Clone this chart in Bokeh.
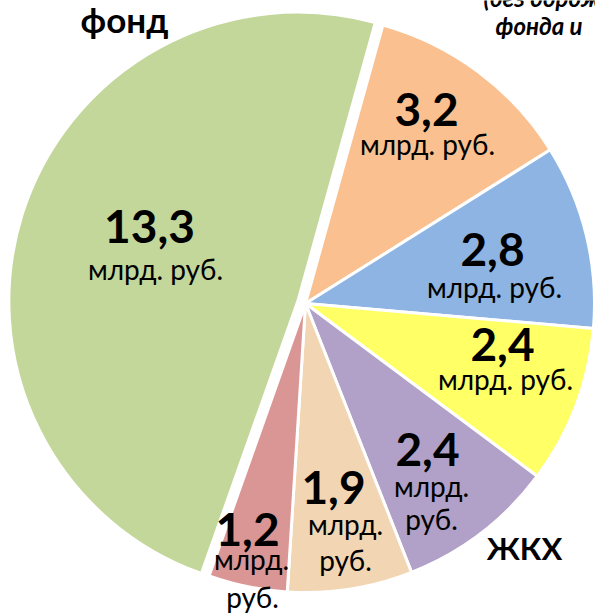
import math
from bokeh.plotting import figure
from bokeh.models import Range1d, ColumnDataSource
from bokeh.core.properties import value
from bokeh.embed import file_html
from bokeh.resources import INLINE

# ---- data ----
categories = ["Дорожный фонд", "Прочее", "Образование", "Соцполитика", "ЖКХ", "Здравоохранение", "Культура"]
values = [13.3, 3.2, 2.8, 2.4, 2.4, 1.9, 1.2]
value_labels = ["13,3", "3,2", "2,8", "2,4", "2,4", "1,9", "1,2"]
unit_lines = [["млрд. руб."], ["млрд. руб."], ["млрд. руб."], ["млрд. руб."],
              ["млрд.", "руб."], ["млрд.", "руб."], ["млрд.", "руб."]]
colors = ["#C4D79B", "#FAC090", "#8DB4E2", "#FFFF66", "#B1A0C7", "#F2D5B3", "#DA9694"]

# ---- layout (pixel coords, y downward) ----
W, H = 595, 615
CX, CY, R = 305, 303, 289
START_DEG = 199.5          # clockwise from 12 o'clock, start of first slice
explode = [8, 0, 0, 0, 0, 0, 0]
NUM_SIZE, UNIT_SIZE = 46, 28
K = 0.34                   # baseline correction (fraction of font size)
num_pos = [(149, 242), (426, 125), (492, 265), (502, 360), (427, 465), (333, 503), (247, 545)]
unit_pos = [[(155, 278)], [(427, 153)], [(494, 296)], [(505, 388)],
            [(431, 495), (431, 528)], [(345, 533), (345, 569)], [(251, 568), (252, 606)]]

def Y(y, size=0):
    return H - (y - K * size)

total = sum(values)
xs, ys, sa, ea = [], [], [], []
cum = 0.0
for v, ex in zip(values, explode):
    a0 = START_DEG + cum / total * 360.0
    a1 = START_DEG + (cum + v) / total * 360.0
    cum += v
    mid = math.radians(90.0 - (a0 + a1) / 2.0)
    xs.append(CX + ex * math.cos(mid))
    ys.append(Y(CY) + ex * math.sin(mid))
    sa.append(math.radians(90.0 - a0))
    ea.append(math.radians(90.0 - a1))

src = ColumnDataSource(dict(x=xs, y=ys, start=sa, end=ea, color=colors, cat=categories, val=values))

p = figure(width=W, height=H, x_range=Range1d(0, W), y_range=Range1d(0, H),
           output_backend="svg", toolbar_location=None, min_border=0)
p.title.visible = False
p.axis.visible = False
p.grid.visible = False
p.outline_line_color = None
p.background_fill_color = "#ffffff"
p.border_fill_color = "#ffffff"

p.wedge(x="x", y="y", radius=R, start_angle="start", end_angle="end", direction="clock",
        fill_color="color", line_color="white", line_width=3, source=src)

FONT = value("Lato")
p.text(x=[q[0] for q in num_pos], y=[Y(q[1], NUM_SIZE) for q in num_pos], text=value_labels,
       text_font=FONT, text_font_style="bold", text_font_size=f"{NUM_SIZE}px",
       text_align="center", text_baseline="alphabetic", text_color="black")

ux, uy, ut = [], [], []
for lines, poss in zip(unit_lines, unit_pos):
    for t, (x, y) in zip(lines, poss):
        ux.append(x); uy.append(Y(y, UNIT_SIZE)); ut.append(t)
p.text(x=ux, y=uy, text=ut, text_font=FONT, text_font_size=f"{UNIT_SIZE}px",
       text_align="center", text_baseline="alphabetic", text_color="black")

# outer captions
p.text(x=[124], y=[Y(30, 35)], text=["фонд"], text_font=FONT, text_font_style="bold",
       text_font_size="35px", text_align="center", text_baseline="alphabetic")
p.text(x=[524], y=[Y(558, 31)], text=["ЖКХ"], text_font=FONT, text_font_style="bold",
       text_font_size="31px", text_align="center", text_baseline="alphabetic")
p.text(x=[483, 495], y=[Y(5, 24), Y(33, 24)], text=["(без дорожного", "фонда и"], text_font=FONT,
       text_font_style="bold italic", text_font_size="24px", text_align="left",
       text_baseline="alphabetic")

open("out.html", "w").write(file_html(p, INLINE))
